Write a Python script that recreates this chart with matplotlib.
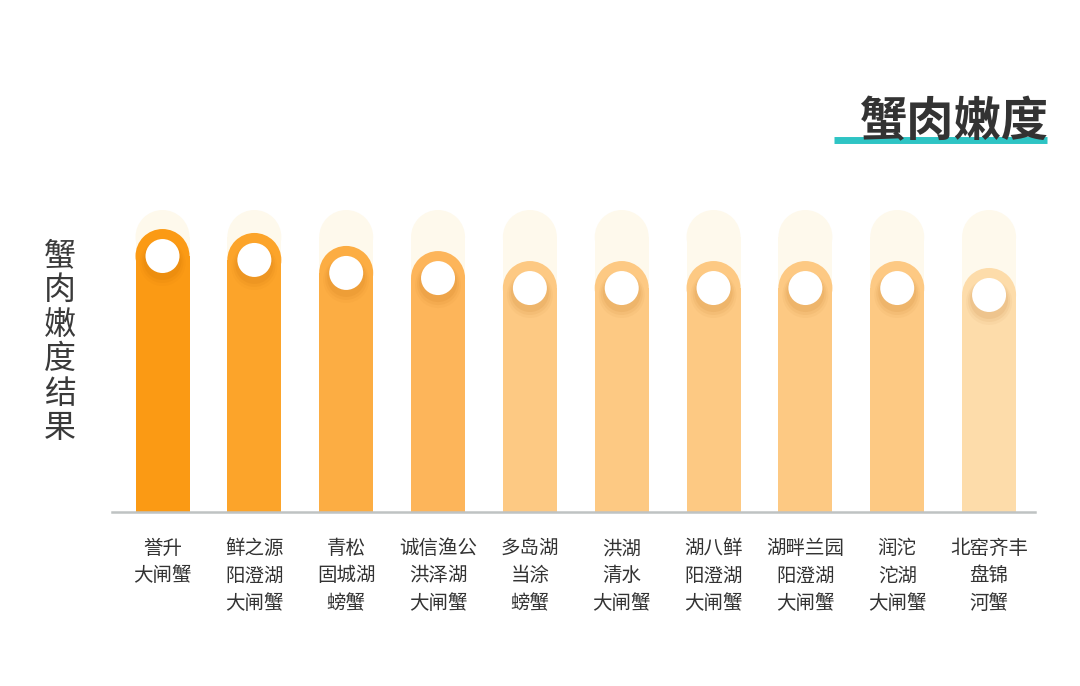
import matplotlib
matplotlib.use("Agg")
import matplotlib.pyplot as plt
from matplotlib.patches import Rectangle, Ellipse

plt.rcParams['font.family'] = ['Noto Sans CJK SC', 'DejaVu Sans']

# data (score out of 10, background pill = full score)
brands = ['誉升\n大闸蟹', '鲜之源\n阳澄湖\n大闸蟹', '青松\n固城湖\n螃蟹', '诚信渔公\n洪泽湖\n大闸蟹',
          '多岛湖\n当涂\n螃蟹', '洪湖\n清水\n大闸蟹', '湖八鲜\n阳澄湖\n大闸蟹', '湖畔兰园\n阳澄湖\n大闸蟹',
          '润沱\n沱湖\n大闸蟹', '北窑齐丰\n盘锦\n河蟹']
scores = [9.37, 9.24, 8.81, 8.64, 8.31, 8.31, 8.31, 8.31, 8.31, 8.08]
full_score = 10
bar_colors = ['#FB9A14', '#FCA42A', '#FCAD43', '#FDB55A', '#FDC983',
              '#FDC983', '#FDC983', '#FDC983', '#FDC983', '#FDDCAA']

W, H = 1080, 686
fig = plt.figure(figsize=(W / 100, H / 100), dpi=100)
# axes in pixel terms: x 112..1035, baseline y=512, top y=210 (from top)
ax = fig.add_axes([112 / W, (H - 512) / H, (1035 - 112) / W, (512 - 210) / H])
ax.set_xlim(-0.55, 9.5)
ax.set_ylim(0, full_score)
ax.axis('off')

# pixel -> data unit conversions
px_x = (9.5 + 0.55) / (1035 - 112)
px_y = full_score / (512 - 210)

rx, ry = 27 * px_x, 27 * px_y


def pill(x, top, color, z):
    ax.add_patch(Rectangle((x - rx, 0), 2 * rx, top - ry, color=color, lw=0, zorder=z))
    ax.add_patch(Ellipse((x, top - ry), 2 * rx, 2 * ry, color=color, lw=0, zorder=z))


for i, (s, c) in enumerate(zip(scores, bar_colors)):
    pill(i, full_score, '#FEF9EC', 1)
    pill(i, s, c, 2)
    cy = s - 27 * px_y
    # soft shadow under the white knob
    for k, off, a in [(23, 7, 0.04), (21, 6, 0.06), (19, 5, 0.08)]:
        ax.add_patch(Ellipse((i, cy - off * px_y), 2 * k * px_x, 2 * k * px_y,
                             color='#B05A00', alpha=a, lw=0, zorder=3))
    ax.add_patch(Ellipse((i, cy), 34 * px_x, 34 * px_y, color='white', lw=0, zorder=4))

# baseline
ax.plot([-0.55, 9.5], [0, 0], color='#BFC3C3', lw=1.8, zorder=5, clip_on=False)

# category labels
for i, b in enumerate(brands):
    ax.text(i, -26 * px_y, b, ha='center', va='top', fontsize=14, color='#333333',
            linespacing=1.4, multialignment='center')

# vertical y label
fig.text(60 / W, 1 - 342 / H, '\n'.join('蟹肉嫩度结果'), ha='center', va='center',
         fontsize=23, color='#3a3a3a', linespacing=1.1)

# title with teal underline
fig.add_artist(plt.Line2D([834 / W, 1047 / W], [1 - 140 / H, 1 - 140 / H],
                          color='#2EC4C4', lw=5, solid_capstyle='butt'))
fig.text(1048 / W, 1 - 122 / H, '蟹肉嫩度', ha='right', va='center',
         fontsize=34, fontweight='heavy', color='#333333')

fig.savefig('out.png', dpi=100, facecolor='white')
